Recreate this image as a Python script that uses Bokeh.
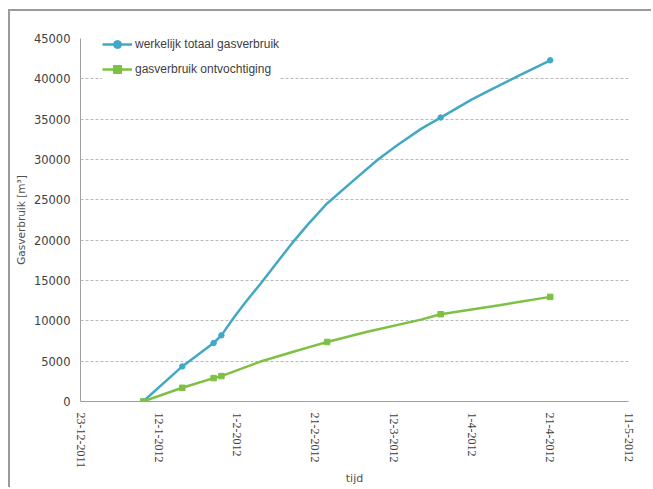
from datetime import datetime
from bokeh.plotting import figure
from bokeh.models import FixedTicker, Range1d, Legend, LegendItem, SingleIntervalTicker
from bokeh.embed import file_html
from bokeh.resources import INLINE

# ---- data ----
tick_labels = ["23-12-2011", "12-1-2012", "1-2-2012", "21-2-2012",
               "12-3-2012", "1-4-2012", "21-4-2012", "11-5-2012"]

blue_dates = ["8-1-2012", "18-1-2012", "26-1-2012", "28-1-2012", "31-1-2012",
              "3-2-2012", "7-2-2012", "11-2-2012", "15-2-2012", "19-2-2012",
              "24-2-2012", "2-3-2012", "8-3-2012", "13-3-2012", "19-3-2012",
              "24-3-2012", "1-4-2012", "6-4-2012", "13-4-2012", "21-4-2012"]
blue_values = [0, 4350, 7250, 8200, 10300,
               12200, 14600, 17100, 19600, 21900,
               24550, 27500, 30000, 31800, 33800,
               35200, 37450, 38700, 40400, 42300]
blue_marker_dates = ["8-1-2012", "18-1-2012", "26-1-2012", "28-1-2012",
                     "24-3-2012", "21-4-2012"]
blue_marker_values = [0, 4350, 7250, 8200, 35200, 42300]

green_dates = ["8-1-2012", "18-1-2012", "26-1-2012", "28-1-2012", "7-2-2012",
               "16-2-2012", "19-2-2012", "24-2-2012", "5-3-2012", "19-3-2012",
               "24-3-2012", "8-4-2012", "21-4-2012"]
green_values = [0, 1700, 2900, 3150, 4950,
                6260, 6680, 7380, 8620, 10150,
                10820, 11940, 12970]
green_marker_dates = ["8-1-2012", "18-1-2012", "26-1-2012", "28-1-2012",
                      "24-2-2012", "24-3-2012", "21-4-2012"]
green_marker_values = [0, 1700, 2900, 3150, 7380, 10820, 12970]

series_names = ["werkelijk totaal gasverbruik", "gasverbruik ontvochtiging"]


def ms(s):
    d, m, y = map(int, s.split("-"))
    return (datetime(y, m, d) - datetime(1970, 1, 1)).total_seconds() * 1000.0


tick_ms = [ms(t) for t in tick_labels]

p = figure(width=643, height=478, output_backend="svg", toolbar_location=None,
           x_axis_type="datetime",
           x_range=Range1d(tick_ms[0], tick_ms[-1]), y_range=Range1d(0, 45000),
           min_border_left=70, min_border_right=25, min_border_top=27,
           min_border_bottom=88)
p.styles = {"margin-left": "8px", "margin-top": "9px",
            "border-top": "2px solid #9a9a9a", "border-left": "2px solid #9a9a9a"}
p.outline_line_color = None
p.background_fill_color = "white"
p.border_fill_color = "white"

blue = "#42a8c6"
green = "#7cc142"

l1 = p.line([ms(d) for d in blue_dates], blue_values, line_color=blue, line_width=2.5)
s1 = p.scatter([ms(d) for d in blue_marker_dates], blue_marker_values, marker="circle",
               size=5.5, fill_color=blue, line_color=blue)
l2 = p.line([ms(d) for d in green_dates], green_values, line_color=green, line_width=2.5)
s2 = p.scatter([ms(d) for d in green_marker_dates], green_marker_values, marker="square",
               size=5.5, fill_color=green, line_color=green)

# axes
p.xaxis.ticker = FixedTicker(ticks=tick_ms)
p.xaxis.major_label_overrides = {t: lab for t, lab in zip(tick_ms, tick_labels)}
p.xaxis.major_label_orientation = "vertical"
p.xaxis.major_label_text_font = "Liberation Serif"
p.xaxis.major_label_text_font_size = "12px"
p.xaxis.major_label_text_color = "#404040"
p.xaxis.major_label_standoff = 11
p.xaxis.axis_label = "tijd"
p.xaxis.axis_label_text_font = "DejaVu Sans"
p.xaxis.axis_label_text_font_style = "normal"
p.xaxis.axis_label_text_font_size = "11px"
p.xaxis.axis_label_text_color = "#505050"
p.xaxis.axis_label_standoff = 1

p.yaxis.ticker = SingleIntervalTicker(interval=5000)
p.yaxis.major_label_text_font = "DejaVu Sans"
p.yaxis.major_label_text_font_size = "11.5px"
p.yaxis.major_label_text_color = "#404040"
p.yaxis.major_label_standoff = 10
p.yaxis.axis_label = "Gasverbruik [m\u00b3]"
p.yaxis.axis_label_text_font = "DejaVu Sans"
p.yaxis.axis_label_text_font_style = "normal"
p.yaxis.axis_label_text_font_size = "10.5px"
p.yaxis.axis_label_text_color = "#505050"
p.yaxis.axis_label_standoff = 4

for ax in (p.xaxis, p.yaxis):
    ax.axis_line_color = "#a0a0a0"
    ax.major_tick_line_color = None
    ax.minor_tick_line_color = None
    ax.major_tick_out = 0
    ax.major_tick_in = 0
    ax.minor_tick_out = 0
    ax.minor_tick_in = 0

p.xgrid.grid_line_color = None
p.ygrid.grid_line_color = "#b8b8b8"
p.ygrid.grid_line_dash = "3 2"
p.ygrid.grid_line_width = 1

legend = Legend(items=[LegendItem(label=series_names[0], renderers=[l1, s1]),
                       LegendItem(label=series_names[1], renderers=[l2, s2])],
                location=(22, 322), padding=8, spacing=5, label_height=20,
                glyph_width=30, glyph_height=20, label_standoff=3, margin=0,
                border_line_color=None, background_fill_color="white",
                background_fill_alpha=1.0,
                label_text_font="Liberation Sans", label_text_font_size="12px",
                label_text_color="#404040")
p.add_layout(legend, "center")

open("out.html", "w").write(file_html(p, INLINE))
